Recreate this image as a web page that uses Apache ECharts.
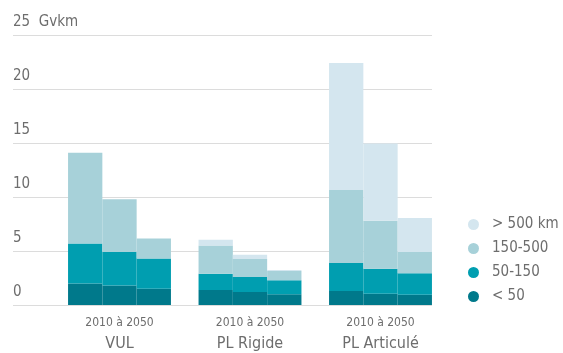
<!DOCTYPE html>
<html>
<head>
<meta charset="utf-8">
<script src="https://cdn.jsdelivr.net/npm/echarts@6/dist/echarts.min.js"></script>
<style>
html, body { margin: 0; padding: 0; background: #fff; }
#chart { width: 563px; height: 353px; }
</style>
</head>
<body>
<div id="chart"></div>
<script>
// categories
var groups = ['VUL', 'PL Rigide', 'PL Articulé'];
var years = ['2010', '2030', '2050'];
var periodLabel = '2010 à 2050';
var bands = ['< 50', '50-150', '150-500', '> 500 km'];
var yTicks = [0, 5, 10, 15, 20, 25];
var yUnit = 'Gvkm';

// values in Gvkm, [group][year]
var lt50 = [[2.0, 1.8, 1.5], [1.4, 1.2, 1.0], [1.3, 1.05, 0.95]];
var d50to150 = [[3.7, 3.1, 2.8], [1.5, 1.4, 1.3], [2.6, 2.3, 2.0]];
var d150to500 = [[8.4, 4.9, 1.85], [2.6, 1.65, 0.85], [6.75, 4.45, 1.95]];
var gt500 = [[0, 0, 0], [0.55, 0.4, 0.1], [11.75, 7.15, 3.15]];

var bandValues = [lt50, d50to150, d150to500, gt500];
var bandColors = ['#00798b', '#009eb0', '#a7d1d9', '#d4e6ef'];

var font = "'DejaVu Sans Condensed', 'Liberation Sans Narrow', sans-serif";
var grey = '#6d6d6d';

var series = [];
years.forEach(function (yr, j) {
  bands.forEach(function (band, b) {
    series.push({
      name: band,
      type: 'bar',
      stack: 'y' + yr,
      xAxisIndex: 1,
      yAxisIndex: 1,
      barWidth: 34.3,
      barGap: '0%',
      itemStyle: { color: bandColors[b] },
      data: groups.map(function (g, i) { return bandValues[b][i][j]; })
    });
  });
});

var chart = echarts.init(document.getElementById('chart'));
chart.setOption({
  animation: false,
  textStyle: { fontFamily: font },
  grid: [
    { left: 13, right: 131, top: 35, bottom: 48 },
    { left: 54.25, right: 117.25, top: 35, bottom: 48 }
  ],
  xAxis: [
    { gridIndex: 0, type: 'value', show: false },
    {
      gridIndex: 1,
      type: 'category',
      data: groups,
      axisLine: { show: false },
      axisTick: { show: false },
      axisLabel: {
        margin: 9,
        formatter: function (v) { return '{a|' + periodLabel + '}\n{b|' + v + '}'; },
        rich: {
          a: { fontSize: 12, lineHeight: 18, color: grey, fontFamily: font },
          b: { fontSize: 16, lineHeight: 24, color: grey, fontFamily: font }
        }
      }
    }
  ],
  yAxis: [
    {
      gridIndex: 0,
      type: 'value',
      min: yTicks[0],
      max: yTicks[yTicks.length - 1],
      interval: 5,
      axisLine: { show: false },
      axisTick: { show: false },
      splitLine: { lineStyle: { color: '#dcdcdc', width: 1 } },
      axisLabel: {
        showMinLabel: true,
        showMaxLabel: true,
        align: 'left',
        verticalAlign: 'bottom',
        margin: 0,
        padding: [0, 0, 5, 0],
        fontSize: 15,
        color: grey,
        fontFamily: font,
        formatter: function (v) {
          return v === yTicks[yTicks.length - 1] ? v + '  ' + yUnit : '' + v;
        }
      }
    },
    { gridIndex: 1, type: 'value', min: 0, max: 25, show: false }
  ],
  legend: {
    orient: 'vertical',
    left: 463,
    top: 212,
    icon: 'circle',
    itemWidth: 11,
    itemHeight: 11,
    itemGap: 9,
    data: bands.slice().reverse(),
    textStyle: { fontSize: 15, color: grey, fontFamily: font, padding: [0, 0, 0, 8] }
  },
  series: series
});
</script>
</body>
</html>
